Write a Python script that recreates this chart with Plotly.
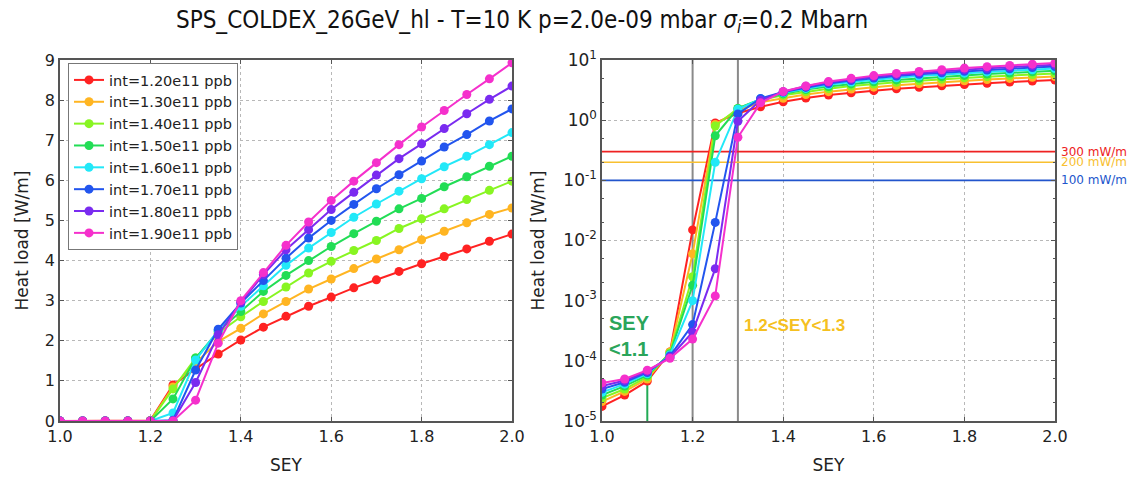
import math
import plotly.graph_objects as go

# ---------------- data ----------------
sey = [1.00, 1.05, 1.10, 1.15, 1.20, 1.25, 1.30, 1.35, 1.40, 1.45, 1.50,
       1.55, 1.60, 1.65, 1.70, 1.75, 1.80, 1.85, 1.90, 1.95, 2.00]

labels = ["int=1.20e11 ppb", "int=1.30e11 ppb", "int=1.40e11 ppb", "int=1.50e11 ppb",
          "int=1.60e11 ppb", "int=1.70e11 ppb", "int=1.80e11 ppb", "int=1.90e11 ppb"]

hl_120 = [1.75e-5, 2.7e-5, 4.6e-5, 1.4e-4, 0.015, 0.90, 1.30, 1.67, 2.02, 2.34, 2.61,
          2.86, 3.09, 3.32, 3.52, 3.73, 3.92, 4.10, 4.29, 4.48, 4.66]
hl_130 = [2.1e-5, 3.1e-5, 5.0e-5, 1.4e-4, 0.006, 0.85, 1.45, 1.98, 2.31, 2.67, 2.98,
          3.29, 3.54, 3.80, 4.04, 4.27, 4.52, 4.73, 4.94, 5.15, 5.31]
hl_140 = [2.4e-5, 3.4e-5, 5.4e-5, 1.35e-4, 0.0025, 0.80, 1.57, 2.19, 2.60, 2.98, 3.34,
          3.69, 3.98, 4.25, 4.50, 4.80, 5.04, 5.29, 5.52, 5.75, 5.98]
hl_150 = [2.7e-5, 3.8e-5, 5.8e-5, 1.3e-4, 0.0018, 0.55, 1.57, 2.23, 2.73, 3.23, 3.63,
          4.00, 4.35, 4.67, 4.98, 5.29, 5.55, 5.84, 6.09, 6.35, 6.60]
hl_160 = [3.0e-5, 4.1e-5, 6.1e-5, 1.25e-4, 0.0010, 0.20, 1.52, 2.26, 2.86, 3.37, 3.88,
          4.31, 4.70, 5.08, 5.41, 5.73, 6.04, 6.34, 6.60, 6.89, 7.19]
hl_170 = [3.4e-5, 4.4e-5, 6.4e-5, 1.2e-4, 4.0e-4, 0.020, 1.27, 2.29, 2.94, 3.50, 4.06,
          4.56, 5.00, 5.40, 5.79, 6.14, 6.48, 6.83, 7.14, 7.48, 7.78]
hl_180 = [3.8e-5, 4.7e-5, 6.7e-5, 1.15e-4, 3.0e-4, 0.0034, 0.96, 2.15, 2.96, 3.65, 4.27,
          4.77, 5.27, 5.70, 6.13, 6.54, 6.91, 7.29, 7.66, 8.02, 8.35]
hl_190 = [4.3e-5, 5.0e-5, 7.0e-5, 1.1e-4, 2.3e-4, 0.0012, 0.52, 1.94, 3.00, 3.70, 4.38,
          4.96, 5.50, 5.98, 6.44, 6.89, 7.33, 7.74, 8.14, 8.53, 8.93]

series = [hl_120, hl_130, hl_140, hl_150, hl_160, hl_170, hl_180, hl_190]
colors = ["#FF2222", "#FFB522", "#88F522", "#22DD55", "#22E8F8", "#2255EE", "#7A2BF0", "#F530CC"]

# reference levels (W/m) and their labels
ref_levels = [0.3, 0.2, 0.1]
ref_labels = ["300 mW/m", "200 mW/m", "100 mW/m"]
ref_colors = ["#EE2222", "#F8C030", "#2255CC"]

sey_bounds = [1.2, 1.3]     # grey vertical markers
sey_low = [1.1]             # green vertical marker
sey_low_top = [7.0e-5]

left_yticks = [0, 1, 2, 3, 4, 5, 6, 7, 8, 9]
x_ticks = [1.0, 1.2, 1.4, 1.6, 1.8, 2.0]
x_ticktext = ["1.0", "1.2", "1.4", "1.6", "1.8", "2.0"]
log_ticks = [1e-5, 1e-4, 1e-3, 1e-2, 1e-1, 1e0, 1e1]
log_ticktext = ["10<sup>-5</sup>", "10<sup>-4</sup>", "10<sup>-3</sup>", "10<sup>-2</sup>",
                "10<sup>-1</sup>", "10<sup>0</sup>", "10<sup>1</sup>"]

# ---------------- figure ----------------
# the page body has an 8 px margin, so the figure is offset by 8 px
OFF = 8
W, H = 1141 - OFF, 482 - OFF
ml, mt = 60 - OFF, 60 - OFF
mr = W - (1055 - OFF)
mb = H - (421 - OFF)
pw = W - ml - mr
ph = H - mt - mb

fig = go.Figure()

for xv in sey_bounds:
    fig.add_trace(go.Scatter(x=[xv, xv], y=[1e-5, 10], mode="lines",
                             line=dict(color="#8a8a8a", width=2),
                             xaxis="x2", yaxis="y2", showlegend=False, hoverinfo="skip"))
for xv, yt in zip(sey_low, sey_low_top):
    fig.add_trace(go.Scatter(x=[xv, xv], y=[1e-5, yt], mode="lines",
                             line=dict(color="#22AA55", width=2),
                             xaxis="x2", yaxis="y2", showlegend=False, hoverinfo="skip"))
for lv, c in zip(ref_levels, ref_colors):
    fig.add_trace(go.Scatter(x=[1.0, 2.0], y=[lv, lv], mode="lines",
                             line=dict(color=c, width=1.6),
                             xaxis="x2", yaxis="y2", showlegend=False, hoverinfo="skip"))

for name, ys, c in zip(labels, series, colors):
    fig.add_trace(go.Scatter(x=sey, y=ys, name=name, mode="lines+markers",
                             line=dict(color=c, width=2), marker=dict(color=c, size=9),
                             xaxis="x", yaxis="y", showlegend=True))
for name, ys, c in zip(labels, series, colors):
    fig.add_trace(go.Scatter(x=sey, y=ys, name=name, mode="lines+markers",
                             line=dict(color=c, width=2), marker=dict(color=c, size=9),
                             xaxis="x2", yaxis="y2", showlegend=False))

axis_common = dict(showline=True, mirror="ticks", linecolor="#555", linewidth=1.5,
                   ticks="inside", ticklen=4, tickcolor="#555", automargin=False,
                   showgrid=True, gridcolor="#b8b8b8", griddash="dot", gridwidth=1,
                   zeroline=False, tickfont=dict(size=16, color="#222"),
                   title_font=dict(size=17, color="#222"))

xl = (512 - 60) / pw
xr0 = (602 - 60) / pw

fig.update_layout(
    width=W, height=H,
    margin=dict(l=ml, r=mr, t=mt, b=mb, autoexpand=False),
    paper_bgcolor="white", plot_bgcolor="white",
    font=dict(family="DejaVu Sans", color="#222"),
    title=dict(text="SPS_COLDEX_26GeV_hl - T=10 K p=2.0e-09 mbar <i>σ<sub>i</sub></i>=0.2 Mbarn",
               x=(522 - OFF) / W, xanchor="center", y=1 - (20 - OFF) / H, yanchor="middle",
               xref="container", yref="container",
               font=dict(size=24, family="DejaVu Sans Condensed, DejaVu Sans", color="#111")),
    xaxis=dict(domain=[0, xl], range=[1.0, 2.0], tickvals=x_ticks, ticktext=x_ticktext,
               title=dict(text="SEY", standoff=14), anchor="y", **axis_common),
    yaxis=dict(domain=[0, 1], range=[0, 9], tickvals=left_yticks,
               title=dict(text="Heat load [W/m]", standoff=12), anchor="x", **axis_common),
    xaxis2=dict(domain=[xr0, 1], range=[1.0, 2.0], tickvals=x_ticks, ticktext=x_ticktext,
                title=dict(text="SEY", standoff=14), anchor="y2", **axis_common),
    yaxis2=dict(domain=[0, 1], type="log", range=[-5, 1], tickvals=log_ticks,
                ticktext=log_ticktext,
                minor=dict(ticks="inside", ticklen=2, tickcolor="#555", showgrid=False),
                title=dict(text="Heat load [W/m]", standoff=14), anchor="x2",
                **{**axis_common, "tickfont": dict(size=17, color="#222")}),
    legend=dict(x=(68 - 60) / pw, y=1 - (63 - 60) / ph, xanchor="left", yanchor="top",
                bgcolor="white", bordercolor="#777", borderwidth=1,
                font=dict(size=14.5, color="#222"), tracegroupgap=0, itemwidth=30),
    showlegend=True,
)

fig.add_annotation(text="<b>SEY<br>&lt;1.1</b>", xref="x2", yref="paper",
                   x=1.012, y=(421 - 336) / ph, xanchor="left", yanchor="middle",
                   align="left", showarrow=False,
                   font=dict(size=20, color="#2AA55A", family="Liberation Sans, Arial"))
fig.add_annotation(text="<b>1.2&lt;SEY&lt;1.3</b>", xref="x2", yref="paper",
                   x=1.31, y=(421 - 325) / ph, xanchor="left", yanchor="middle",
                   showarrow=False,
                   font=dict(size=17, color="#F5C020", family="Liberation Sans, Arial"))
for lv, lab, c in zip(ref_levels, ref_labels, ref_colors):
    fig.add_annotation(text=lab, xref="paper", yref="y2", x=1.004, y=math.log10(lv),
                       xanchor="left", yanchor="middle", showarrow=False,
                       font=dict(size=12, color=c))

fig.write_html("out.html")
